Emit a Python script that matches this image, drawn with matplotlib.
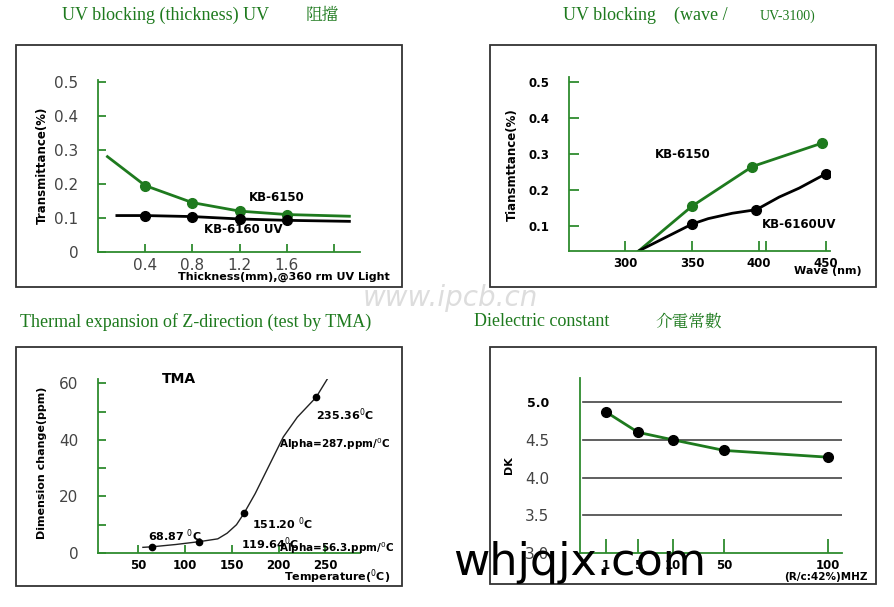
import numpy as np
import matplotlib
matplotlib.use("Agg")
import matplotlib.pyplot as plt
from matplotlib.patches import Rectangle

# ---------------- data ----------------
thick_green_x = [0.08, 0.4, 0.8, 1.2, 1.6, 2.13]
thick_green_y = [0.28, 0.195, 0.145, 0.12, 0.11, 0.105]
thick_black_x = [0.16, 0.4, 0.8, 1.2, 1.6, 2.13]
thick_black_y = [0.107, 0.107, 0.104, 0.097, 0.093, 0.09]
thick_mk = [0.4, 0.8, 1.2, 1.6]
thick_mk_green = [0.195, 0.145, 0.12, 0.11]
thick_mk_black = [0.107, 0.104, 0.097, 0.093]

wave_green_x = [310, 350, 395, 447]
wave_green_y = [0.03, 0.155, 0.265, 0.33]
wave_black_x = [310, 350, 362, 380, 398, 415, 430, 450]
wave_black_y = [0.03, 0.105, 0.12, 0.135, 0.145, 0.18, 0.205, 0.245]
wave_mk_green_x = [350, 395, 447]
wave_mk_green_y = [0.155, 0.265, 0.33]
wave_mk_black_x = [350, 398, 450]
wave_mk_black_y = [0.105, 0.145, 0.245]

tma_x = [55, 65, 90, 115, 135, 145, 155, 163, 175, 190, 205, 220, 240, 253]
tma_y = [2, 2.2, 3, 4, 5, 7, 10, 14, 21, 31, 41, 48, 55, 62]
tma_mk_x = [65, 115, 163, 240]
tma_mk_y = [2.2, 4, 14, 55]

dk_freq = [1, 5, 10, 50, 100]
dk_val = [4.87, 4.6, 4.5, 4.36, 4.27]

W, H = 894, 607
fig = plt.figure(figsize=(W/100, H/100), dpi=100)
GREEN = "#1e7a1e"
AXG = "#2e8b2e"

def ax_px(x0, y0, x1, y1):
    return fig.add_axes([x0/W, 1-y1/H, (x1-x0)/W, (y1-y0)/H])

def box(x0, y0, x1, y1):
    fig.patches.append(Rectangle((x0/W, 1-y1/H), (x1-x0)/W, (y1-y0)/H,
                                 transform=fig.transFigure, fill=False,
                                 edgecolor="#333333", lw=1.3))

def style(ax):
    for s in ["top", "right"]:
        ax.spines[s].set_visible(False)
    for s in ["left", "bottom"]:
        ax.spines[s].set_color(AXG)
        ax.spines[s].set_linewidth(1.3)
    ax.tick_params(direction="in", color=AXG, length=6, width=1.3, pad=4)
    ax.patch.set_alpha(0)

for b in [(16, 45, 402, 287), (490, 45, 876, 287), (16, 347, 402, 586), (490, 347, 876, 584)]:
    box(*b)

SERIF = "Liberation Serif"
CJK = "Noto Serif CJK JP"
fig.text(62/W, 1-15/H, "UV blocking (thickness) UV", color=GREEN, fontsize=13,
         family=SERIF, va="center")
fig.text(306/W, 1-15/H, "阻擋", color=GREEN, fontsize=12, family=CJK, va="center")
fig.text(563/W, 1-15/H, "UV blocking    (wave / ", color=GREEN, fontsize=13,
         family=SERIF, va="center")
fig.text(760/W, 1-16/H, "UV-3100)", color=GREEN, fontsize=10, family=SERIF, va="center")
fig.text(20/W, 1-322/H, "Thermal expansion of Z-direction (test by TMA)", color=GREEN,
         fontsize=13, family=SERIF, va="center")
fig.text(474/W, 1-322/H, "Dielectric constant", color=GREEN, fontsize=13,
         family=SERIF, va="center")
fig.text(655/W, 1-322/H, "介電常數", color=GREEN, fontsize=12, family=CJK, va="center")

# ---------------- TL ----------------
ax = ax_px(98, 80, 360, 252)
style(ax)
ax.set_xlim(0, 2.22)
ax.set_ylim(0, 0.505)
ax.plot(thick_green_x, thick_green_y, color=GREEN, lw=2)
ax.plot(thick_black_x, thick_black_y, color="black", lw=2)
ax.plot(thick_mk, thick_mk_green, "o", color=GREEN, ms=7)
ax.plot(thick_mk, thick_mk_black, "o", color="black", ms=7)
ax.set_xticks([0.4, 0.8, 1.2, 1.6, 2.0], ["0.4", "0.8", "1.2", "1.6", ""])
ax.set_yticks([0, 0.1, 0.2, 0.3, 0.4, 0.5], ["0", "0.1", "0.2", "0.3", "0.4", "0.5"])
ax.tick_params(labelsize=11, labelcolor="#444444")
ax.tick_params(axis="y", pad=14)
ax.text(1.28, 0.15, "KB-6150", fontsize=8.5, weight="bold")
ax.text(0.9, 0.055, "KB-6160 UV", fontsize=8.5, weight="bold")
fig.text(390/W, 1-277/H, "Thickness(mm),@360 rm UV Light", fontsize=8, weight="bold",
         ha="right", va="center")
fig.text(42/W, 1-165/H, "Transmittance(%)", fontsize=8.5, weight="bold", rotation=90,
         ha="center", va="center")

# ---------------- TR ----------------
ax = ax_px(569, 77, 830, 251)
style(ax)
ax.set_xlim(258, 453)
ax.set_ylim(0.03, 0.514)
ax.plot(wave_green_x, wave_green_y, color=GREEN, lw=2)
ax.plot(wave_black_x, wave_black_y, color="black", lw=2)
ax.plot(wave_mk_green_x, wave_mk_green_y, "o", color=GREEN, ms=7)
ax.plot(wave_mk_black_x, wave_mk_black_y, "o", color="black", ms=7)
ax.set_xticks([300, 350, 400, 450], ["300", "350", "400", "450"])
ax.set_xticks([405], minor=True)
ax.set_yticks([0.1, 0.2, 0.3, 0.4, 0.5], ["0.1", "0.2", "0.3", "0.4", "0.5"])
ax.tick_params(which="both", direction="in", color=AXG, length=7, width=1.3)
ax.tick_params(labelsize=8.5)
for t in ax.get_xticklabels() + ax.get_yticklabels():
    t.set_fontweight("bold")
ax.tick_params(axis="y", pad=14)
ax.text(322, 0.29, "KB-6150", fontsize=8.5, weight="bold")
ax.text(402, 0.095, "KB-6160UV", fontsize=8.5, weight="bold")
fig.text(862/W, 1-271/H, "Wave (nm)", fontsize=8, weight="bold", ha="right", va="center")
fig.text(512/W, 1-165/H, "Tiansmttance(%)", fontsize=8.5, weight="bold", rotation=90,
         ha="center", va="center")

# ---------------- BL ----------------
ax = ax_px(98, 379, 360, 553)
style(ax)
ax.set_xlim(7, 287)
ax.set_ylim(0, 61.5)
ax.plot(tma_x, tma_y, color="#222222", lw=1)
ax.plot(tma_mk_x, tma_mk_y, "o", color="black", ms=4.5)
ax.set_xticks([50, 100, 150, 200, 250], ["50", "100", "150", "200", "250"])
ax.set_yticks([0, 10, 20, 30, 40, 50, 60], ["0", "", "20", "", "40", "", "60"])
ax.tick_params(axis="x", labelsize=8.5)
for t in ax.get_xticklabels():
    t.set_fontweight("bold")
ax.tick_params(axis="y", labelsize=11, labelcolor="#444444", pad=14)
ax.text(75, 60, "TMA", fontsize=10, weight="bold")
ax.text(60, 4.5, "68.87 $^0$C", fontsize=8, weight="bold")
ax.text(160, 1.5, "119.64$^0$C", fontsize=8, weight="bold")
ax.text(172, 8.5, "151.20 $^0$C", fontsize=8, weight="bold")
ax.text(240, 47, "235.36$^0$C", fontsize=8, weight="bold")
ax.text(200, 37, "Alpha=287.ppm/$^0$C", fontsize=7.5, weight="bold")
ax.text(200, 0.5, "Alpha=56.3.ppm/$^0$C", fontsize=7.5, weight="bold")
fig.text(390/W, 1-577/H, "Temperature($^0$C)", fontsize=8, weight="bold",
         ha="right", va="center")
fig.text(42/W, 1-463/H, "Dimension change(ppm)", fontsize=8, weight="bold", rotation=90,
         ha="center", va="center")

# ---------------- BR ----------------
xp = [-10, 1, 5, 10, 50, 100, 130]
fp = [-88, 0, 32, 67, 118, 222, 284]
ax = ax_px(580, 378, 842, 553)
ax.set_xscale("function", functions=(lambda v: np.interp(v, xp, fp),
                                     lambda v: np.interp(v, fp, xp)))
style(ax)
ax.set_xlim(-2.25, 106.7)
ax.set_ylim(3.0, 5.32)
for g in [3.5, 4.0, 4.5, 5.0]:
    ax.axhline(g, xmin=0.01, color="#444444", lw=1.2, zorder=1)
ax.plot(dk_freq, dk_val, color=GREEN, lw=2, zorder=3)
ax.plot(dk_freq, dk_val, "o", color="black", ms=7, zorder=4)
ax.set_xticks(dk_freq, [str(f) for f in dk_freq])
ax.set_yticks([3.0, 3.5, 4.0, 4.5, 5.0], ["3.0", "3.5", "4.0", "4.5", "5.0"])
ax.tick_params(axis="x", length=10, labelsize=8.5)
for t in ax.get_xticklabels():
    t.set_fontweight("bold")
ax.tick_params(axis="y", length=0, labelsize=11, labelcolor="#444444", pad=22)
ax.get_yticklabels()[-1].set_fontweight("bold")
ax.get_yticklabels()[-1].set_fontsize(9)
ax.get_yticklabels()[-1].set_color("black")
fig.text(868/W, 1-577/H, "(R/c:42%)MHZ", fontsize=7.5, weight="bold",
         ha="right", va="center")
fig.text(509/W, 1-465/H, "DK", fontsize=8, weight="bold", rotation=90,
         ha="center", va="center")

# watermarks
fig.text(450/W, 1-298/H, "www.ipcb.cn", fontsize=20, color="#dddddd", style="italic",
         ha="center", va="center")
fig.text(580/W, 1-563/H, "whjqjx.com", fontsize=32, color="black",
         ha="center", va="center")

fig.savefig("out.png", dpi=100)
